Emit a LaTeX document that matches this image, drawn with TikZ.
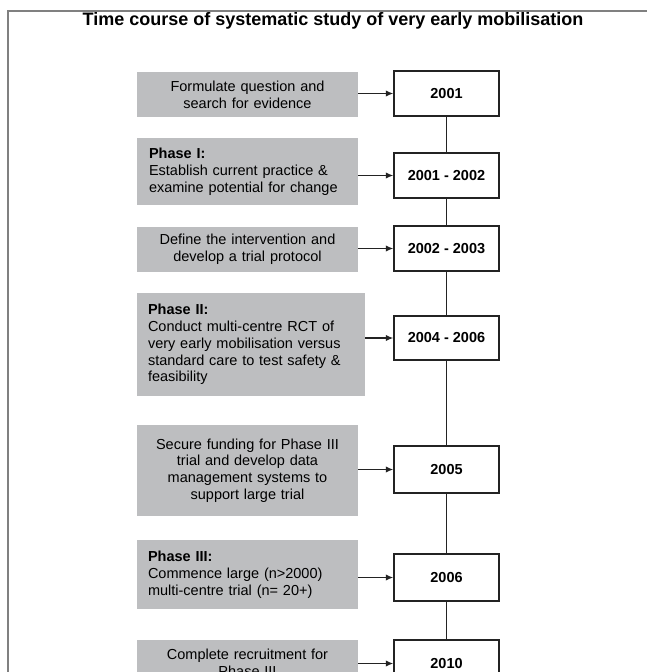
\documentclass[tikz,border=0pt]{standalone}
\usepackage{fontspec}
\setmainfont{Liberation Sans}
\usetikzlibrary{arrows.meta}

\definecolor{taskgray}{RGB}{189,190,192}
\definecolor{framegray}{RGB}{128,128,128}
\definecolor{boxline}{RGB}{35,35,35}

\begin{document}
\begin{tikzpicture}[x=1pt, y=-1pt,
    task/.style={fill=taskgray, minimum width=221pt, inner xsep=8pt, inner ysep=0pt,
        text width=205pt, align=center, font=\fontsize{14.5}{16.8}\selectfont},
    phase/.style={task, align=left, inner xsep=12pt, text width=197pt},
    year/.style={draw=boxline, line width=1.5pt, fill=white, minimum width=105pt,
        minimum height=45pt, inner sep=0pt, font=\bfseries\fontsize{14.5}{16}\selectfont},
    link/.style={draw=boxline, line width=1.3pt, -{Latex[length=7.5pt,width=6.5pt]}},
    stem/.style={draw=boxline, line width=1.4pt}]
        \useasboundingbox (0,0) rectangle (647,672);
        \clip (0,0) rectangle (647,672);

        % Frame and title
        \draw[framegray, line width=2pt] (8,690) -- (8,10.7) -- (660,10.7);
        \node[anchor=base, inner sep=0pt, font=\bfseries\fontsize{18}{22}\selectfont] (title) at (333,25)
            {Time course of systematic study of very early mobilisation};

        % Tasks
        \node[task, minimum height=45pt] (t1) at (247.5,94.5) {Formulate question and\\search for evidence};
        \node[phase, minimum height=67pt] (t2) at (247.5,171.5) {\textbf{Phase I:}\\Establish current practice \&\\examine potential for change};
        \node[task, minimum height=45pt] (t3) at (247.5,249.5) {Define the intervention and\\develop a trial protocol};
        \node[phase, minimum width=228pt, text width=206pt, inner xsep=11pt, minimum height=103pt] (t4) at (251,344.5)
            {\textbf{Phase II:}\\Conduct multi-centre RCT of\\very early mobilisation versus\\standard care to test safety \&\\feasibility};
        \node[task, minimum height=91pt] (t5) at (247.5,470.5) {Secure funding for Phase III\\trial and develop data\\management systems to\\support large trial};
        \node[phase, inner xsep=11pt, text width=199pt, minimum height=69pt] (t6) at (247.5,574.5)
            {\textbf{Phase III:}\\Commence large (n>2000)\\multi-centre trial (n= 20+)};
        \node[task, minimum height=46pt] (t7) at (247.5,663) {Complete recruitment for\\Phase III};

        % Years
        \node[year] (y1) at (446.5,93.5) {2001};
        \node[year] (y2) at (446.5,175.5) {2001 - 2002};
        \node[year] (y3) at (446.5,248.5) {2002 - 2003};
        \node[year, minimum height=44pt] (y4) at (446.5,338) {2004 - 2006};
        \node[year, minimum height=47pt] (y5) at (446.5,469.5) {2005};
        \node[year, minimum height=47pt] (y6) at (446.5,577.5) {2006};
        \node[year, minimum height=47pt] (y7) at (446.5,663.5) {2010};

        % Timeline
        \draw[stem] (y1) -- (y2);
        \draw[stem] (y2) -- (y3);
        \draw[stem] (y3) -- (y4);
        \draw[stem] (y4) -- (y5);
        \draw[stem] (y5) -- (y6);
        \draw[stem] (y6) -- (y7);

        % Arrows
        \draw[link] (y1 -| t1.east) -- (y1.west);
        \draw[link] (y2 -| t2.east) -- (y2.west);
        \draw[link] (y3 -| t3.east) -- (y3.west);
        \draw[link] (y4 -| t4.east) -- (y4.west);
        \draw[link] (y5 -| t5.east) -- (y5.west);
        \draw[link] (y6 -| t6.east) -- (y6.west);
        \draw[link] (y7 -| t7.east) -- (y7.west);
    \end{tikzpicture}
\end{document}
